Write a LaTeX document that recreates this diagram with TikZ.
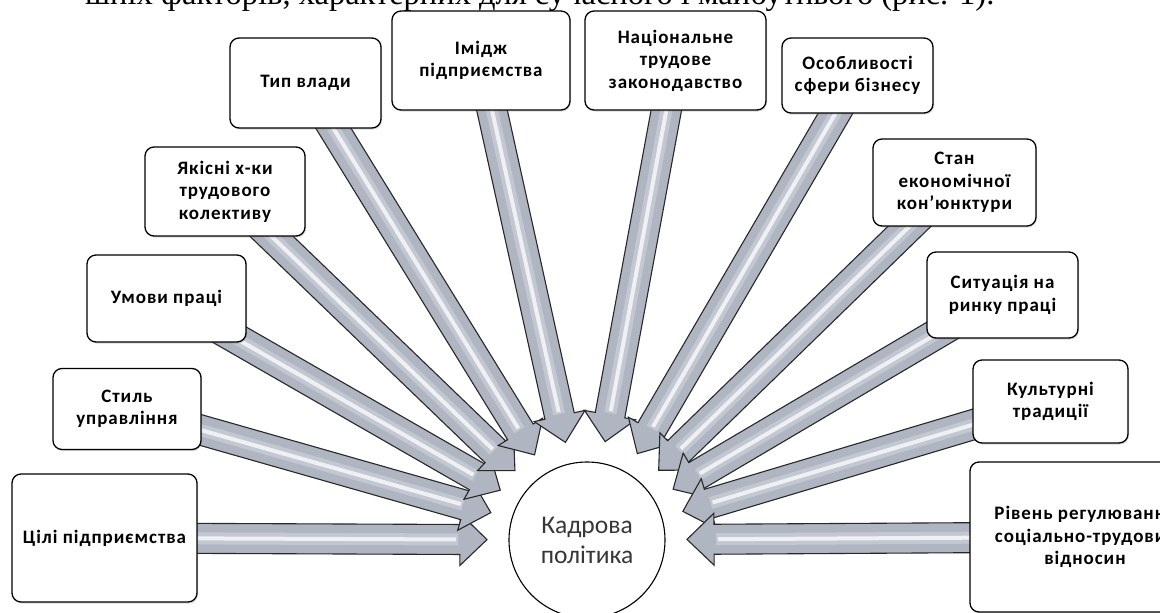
\documentclass[tikz,border=0pt]{standalone}
\usepackage{fontspec}
\setmainfont{Liberation Serif}
\newfontfamily\labelfont{Carlito}[LetterSpace=5.0]
\newfontfamily\hubfont{Carlito}
\usetikzlibrary{calc,shadows,backgrounds}

\definecolor{arrowfill}{RGB}{176,181,194}
\definecolor{arrowline}{RGB}{40,40,40}
\definecolor{hubtext}{RGB}{55,55,55}

\tikzset{
  factor/.style={draw=black, line width=1.3pt, rounded corners=9pt, fill=white,
    align=center, inner sep=2pt,
    font=\labelfont\bfseries\fontsize{19}{22.5}\selectfont,
    drop shadow={shadow xshift=1pt, shadow yshift=-1.5pt, opacity=.3}},
  hub/.style={circle, draw=black, line width=1.1pt, fill=white,
    minimum size=156pt, inner sep=0pt, align=center, text=hubtext,
    font=\hubfont\fontsize{25.5}{30}\selectfont},
  arrowbody/.style={fill=arrowfill, draw=arrowline, line width=1.1pt, line join=miter},
  arrowglow/.style={white, line width=12pt, opacity=.25, line cap=butt},
  arrowshine/.style={white, line width=4pt, opacity=.75, line cap=butt},
  caption/.style={anchor=base west, inner sep=0pt, font=\fontsize{32.5}{34}\selectfont}
}

% block arrow from the centre of a factor box towards the hub
\newcommand\flowarrow[2]{%
  \coordinate (tip) at ($(#2.center)!100pt!(#1.center)$);
  \coordinate (neck) at ($(tip)!27pt!(#1.center)$);
  \filldraw[arrowbody]
    ($(#1.center)!15pt!90:(tip)$) -- ($(neck)!15pt!90:(tip)$) --
    ($(neck)!26pt!90:(tip)$) -- (tip) -- ($(neck)!26pt!-90:(tip)$) --
    ($(neck)!15pt!-90:(tip)$) -- ($(#1.center)!15pt!-90:(tip)$) -- cycle;
  \draw[arrowglow] (#1.center) -- ($(neck)!2pt!(#1.center)$);
  \draw[arrowshine] (#1.center) -- ($(neck)!4pt!(#1.center)$);
}

\begin{document}
\begin{tikzpicture}[x=1pt, y=-1pt]
\useasboundingbox (0,0) rectangle (1160,613);

% running text line above the figure
\node[caption] (cap) at (85,5) {шніх факторів, характерних для сучасного і майбутнього (рис. 1).};

% central node
\node[hub] (hub) at (587,540) {Кадрова\\політика};

% factor boxes, left to right
\node[factor, minimum width=185pt, minimum height=128pt] (b1) at (104.5,538) {Цілі підприємства};
\node[factor, minimum width=148pt, minimum height=81pt] (b2) at (127,409) {Стиль\\управління};
\node[factor, minimum width=159pt, minimum height=87pt] (b3) at (166.5,298.5) {Умови праці};
\node[factor, minimum width=160pt, minimum height=89pt] (b4) at (225,191.5) {Якісні х-ки\\трудового\\колективу};
\node[factor, minimum width=151pt, minimum height=90pt] (b5) at (305.5,83) {Тип влади};
\node[factor, minimum width=178pt, minimum height=99pt] (b6) at (481,60.5) {Імідж\\підприємства};
\node[factor, minimum width=181pt, minimum height=99pt] (b7) at (675.5,60.5) {Національне\\трудове\\законодавство};
\node[factor, minimum width=151pt, minimum height=75pt] (b8) at (857.5,75.5) {Особливості\\сфери бізнесу};
\node[factor, minimum width=163pt, minimum height=87pt] (b9) at (954.5,182.5) {Стан\\економічної\\кон’юнктури};
\node[factor, minimum width=151pt, minimum height=86pt] (b10) at (1002.5,295) {Ситуація на\\ринку праці};
\node[factor, minimum width=155pt, minimum height=83pt] (b11) at (1050.5,401.5) {Культурні\\традиції};
\node[factor, minimum width=230pt, minimum height=150pt] (b12) at (1085,537) {Рівень регулювання\\соціально-трудових\\відносин};

% arrows run behind the boxes
\begin{scope}[on background layer]
  \foreach \b in {b1,b2,b3,b4,b5,b6,b7,b8,b9,b10,b11,b12}
    {\flowarrow{\b}{hub}}
\end{scope}
\end{tikzpicture}
\end{document}
